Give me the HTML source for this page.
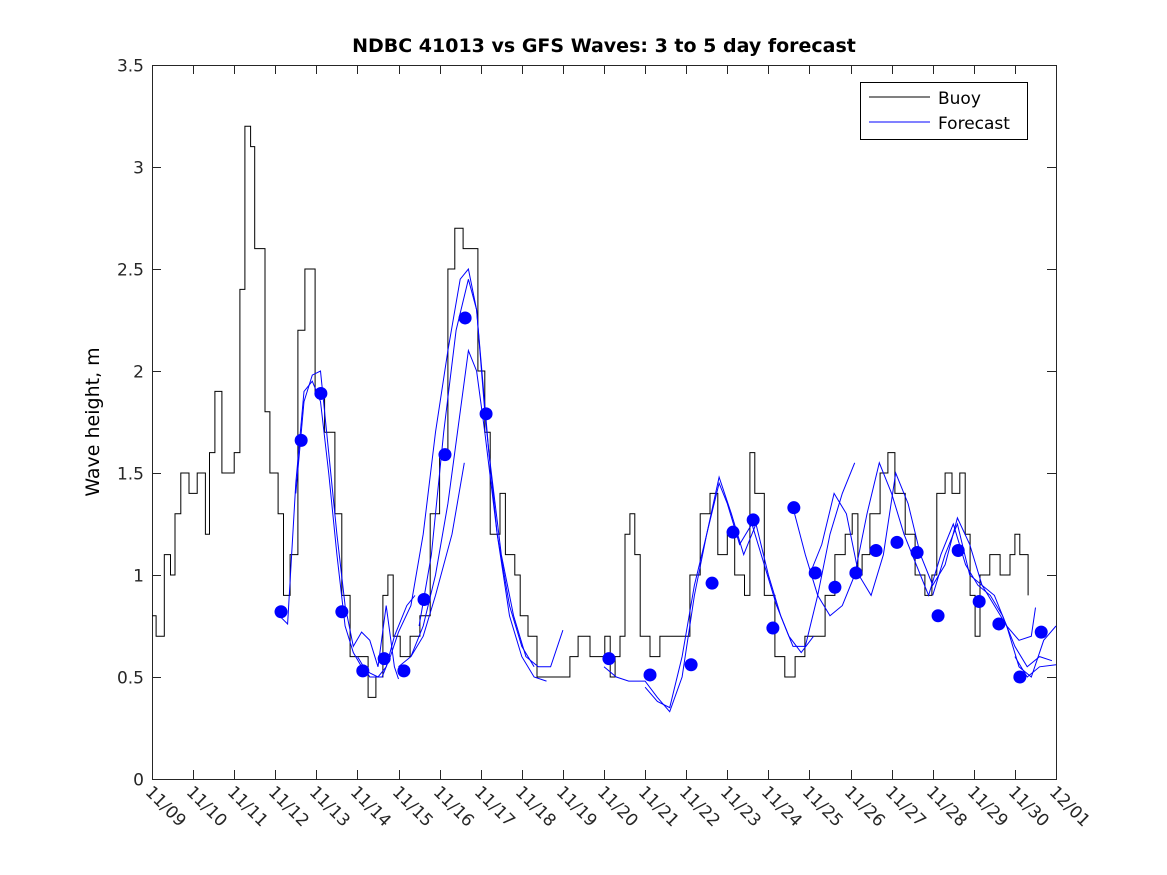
<!DOCTYPE html>
<html><head><meta charset="utf-8"><style>
body{margin:0;background:#fff;}
svg{display:block;font-family:"DejaVu Sans","Liberation Sans",sans-serif;}
</style></head><body>
<svg id="chart" width="1167" height="875" viewBox="0 0 1167 875" xmlns="http://www.w3.org/2000/svg">
<rect width="1167" height="875" fill="#fff"/>
<text x="604" y="52" text-anchor="middle" font-size="19" font-weight="bold">NDBC 41013 vs GFS Waves: 3 to 5 day forecast</text>
<text transform="translate(99,422) rotate(-90)" text-anchor="middle" font-size="19">Wave height, m</text>
<g id="axes"></g>
<g id="marks"></g>
<g id="legend">
<rect x="860.5" y="82.5" width="167" height="57" fill="#fff" stroke="#000"/>
<line x1="869" y1="97" x2="930" y2="97" stroke="#000"/>
<text x="938" y="104" font-size="17">Buoy</text>
<line x1="869" y1="122" x2="930" y2="122" stroke="#00f"/>
<text x="938" y="129" font-size="17">Forecast</text>
</g>
</svg>
<script>
const xTickLabels=["11/09","11/10","11/11","11/12","11/13","11/14","11/15","11/16","11/17","11/18","11/19","11/20","11/21","11/22","11/23","11/24","11/25","11/26","11/27","11/28","11/29","11/30","12/01"];
const yTicks=[0,0.5,1,1.5,2,2.5,3,3.5];
const buoyDays=[0,0.1,0.3,0.45,0.56,0.7,0.9,1.1,1.3,1.4,1.53,1.7,2.0,2.14,2.26,2.4,2.5,2.75,2.87,3.07,3.2,3.36,3.55,3.72,3.97,4.2,4.45,4.62,4.82,5.06,5.26,5.45,5.62,5.74,5.87,6.04,6.28,6.52,6.77,7.0,7.2,7.37,7.57,7.74,7.93,8.1,8.23,8.47,8.6,8.83,8.96,9.15,9.37,10.05,10.17,10.37,10.66,11.02,11.15,11.27,11.39,11.51,11.63,11.75,11.88,12.12,12.36,12.92,13.09,13.34,13.58,13.77,14.0,14.18,14.42,14.55,14.67,14.9,15.16,15.4,15.65,15.89,16.14,16.38,16.62,16.87,17.04,17.18,17.28,17.47,17.72,17.91,18.08,18.33,18.57,18.81,18.98,19.1,19.3,19.47,19.66,19.79,19.91,20.03,20.15,20.39,20.64,20.88,21.0,21.12,21.25,21.32];
const buoyVals=[0.8,0.7,1.1,1.0,1.3,1.5,1.4,1.5,1.2,1.6,1.9,1.5,1.6,2.4,3.2,3.1,2.6,1.8,1.5,1.3,0.9,1.1,2.2,2.5,1.9,1.7,1.3,0.9,0.6,0.6,0.4,0.5,0.9,1.0,0.7,0.6,0.7,0.8,1.3,1.6,2.5,2.7,2.6,2.6,2.0,1.7,1.2,1.4,1.1,1.0,0.8,0.7,0.5,0.5,0.6,0.7,0.6,0.7,0.5,0.6,0.7,1.2,1.3,1.1,0.7,0.6,0.7,0.7,1.0,1.3,1.4,1.1,1.2,1.0,0.9,1.6,1.4,0.9,0.6,0.5,0.6,0.7,0.7,0.9,1.1,1.2,1.3,1.0,1.1,1.3,1.5,1.6,1.4,1.2,1.0,0.9,1.0,1.4,1.5,1.4,1.5,1.2,0.9,0.7,1.0,1.1,1.0,1.1,1.2,1.1,1.1,0.9];
const dotDays=[3.14,3.63,4.11,4.62,5.13,5.65,6.13,6.62,7.13,7.62,8.13,11.12,12.12,13.12,13.63,14.14,14.63,15.11,15.62,16.14,16.62,17.13,17.62,18.13,18.62,19.13,19.62,20.13,20.61,21.12,21.64];
const dotVals=[0.82,1.66,1.89,0.82,0.53,0.59,0.53,0.88,1.59,2.26,1.79,0.59,0.51,0.56,0.96,1.21,1.27,0.74,1.33,1.01,0.94,1.01,1.12,1.16,1.11,0.80,1.12,0.87,0.76,0.50,0.72];
const fDays1=[3.1,3.3,3.5,3.7,3.9,4.1,4.3,4.5,4.7,4.9,5.1,5.3,5.5,5.7,5.9,6.2,6.4];
const fVals1=[0.8,0.76,1.45,1.9,1.95,1.85,1.5,1.1,0.75,0.62,0.55,0.52,0.5,0.55,0.7,0.85,0.9];
const fDays2=[3.5,3.7,3.9,4.1,4.3,4.5,4.7,4.9,5.1,5.3,5.5,5.7,5.9,6.0];
const fVals2=[1.4,1.85,1.98,2.0,1.6,1.2,0.85,0.65,0.72,0.68,0.55,0.85,0.55,0.49];
const fDays3=[5.0,5.3,5.6,5.8,6.0,6.3,6.6,6.9,7.2,7.5,7.7,7.9,8.1,8.4,8.7,9.0,9.3];
const fVals3=[0.6,0.5,0.5,0.6,0.72,0.85,1.2,1.7,2.1,2.45,2.5,2.3,1.8,1.2,0.85,0.65,0.55];
const fDays4=[6.0,6.3,6.6,6.9,7.2,7.5,7.7,7.9,8.1,8.4,8.7,9.0,9.3,9.6];
const fVals4=[0.55,0.6,0.75,1.0,1.35,1.8,2.1,2.0,1.7,1.2,0.8,0.6,0.5,0.48];
const fDays5=[6.3,6.6,6.9,7.3,7.6];
const fVals5=[0.6,0.7,0.9,1.2,1.55];
const fDays6=[6.5,6.8,7.1,7.4,7.7,7.9,8.2,8.5,8.8,9.1,9.4,9.7,10.0];
const fVals6=[0.75,1.1,1.7,2.2,2.45,2.3,1.6,1.1,0.8,0.6,0.55,0.55,0.73];
const fDays7=[11.0,11.3,11.6,12.0,12.3,12.6,12.9,13.2,13.5,13.8,14.0,14.3,14.6,14.9,15.2,15.5,15.8,16.1];
const fVals7=[0.55,0.5,0.48,0.48,0.4,0.33,0.5,0.9,1.2,1.45,1.35,1.15,1.25,1.05,0.85,0.7,0.62,0.7];
const fDays8=[12.0,12.3,12.6,12.9,13.2,13.5,13.8,14.1,14.4,14.7,15.0,15.3,15.6,15.9,16.2,16.5,16.8,17.1];
const fVals8=[0.45,0.38,0.35,0.6,0.95,1.2,1.48,1.3,1.1,1.25,1.0,0.8,0.65,0.65,0.9,1.2,1.4,1.55];
const fDays9=[15.6,15.9,16.2,16.5,16.8,17.1,17.4,17.7,18.0,18.3,18.6,18.9,19.2,19.5,19.8,20.1,20.4,20.7,21.0,21.3,21.6,21.9];
const fVals9=[1.33,1.1,0.9,0.8,0.85,1.0,1.3,1.55,1.4,1.2,1.05,0.9,1.1,1.25,1.05,0.95,0.9,0.8,0.65,0.55,0.6,0.58];
const fDays10=[16.0,16.3,16.6,16.9,17.2,17.5,17.8,18.1,18.4,18.7,19.0,19.3,19.6,19.9,20.2,20.5,20.8,21.1,21.4,21.5];
const fVals10=[1.0,1.15,1.4,1.3,1.0,0.9,1.1,1.5,1.35,1.1,0.95,1.05,1.28,1.15,0.95,0.85,0.75,0.68,0.7,0.84];
const fDays11=[19.0,19.3,19.6,19.9,20.2,20.5,20.8,21.1,21.4,21.7,22.0];
const fVals11=[0.9,1.1,1.25,1.0,0.95,0.9,0.75,0.55,0.5,0.68,0.75];
const fDays12=[21.0,21.3,21.6,22.0];
const fVals12=[0.6,0.5,0.55,0.56];

const X0=152,X1=1056,Y0=779,Y1=65,DMAX=22,VMAX=3.5;
const xs=d=>X0+(X1-X0)*d/DMAX;
const ys=v=>Y0-(Y0-Y1)*v/VMAX;
const NS='http://www.w3.org/2000/svg';
const axes=document.getElementById('axes'),marks=document.getElementById('marks');
function mk(tag,attrs,parent){const e=document.createElementNS(NS,tag);for(const k in attrs)e.setAttribute(k,attrs[k]);parent.appendChild(e);return e;}
const frame=mk('rect',{x:X0+0.5,y:Y1+0.5,width:X1-X0,height:Y0-Y1,fill:'none',stroke:'#262626'},axes);


xTickLabels.forEach((lab,i)=>{
  const x=Math.round(xs(i))+0.5;
  mk('line',{x1:x,y1:Y0,x2:x,y2:Y0-9,stroke:'#262626'},axes);
  mk('line',{x1:x,y1:Y1,x2:x,y2:Y1+9,stroke:'#262626'},axes);
  const t=mk('text',{x:0,y:0,'font-size':17,fill:'#262626',transform:`translate(${x-8},${Y0+14}) rotate(45)`},axes);
  t.textContent=lab;
  
  
});
yTicks.forEach(v=>{
  const y=Math.round(ys(v))+0.5;
  mk('line',{x1:X0,y1:y,x2:X0+9,y2:y,stroke:'#262626'},axes);
  mk('line',{x1:X1,y1:y,x2:X1-9,y2:y,stroke:'#262626'},axes);
  const t=mk('text',{x:X0-8,y:y+6,'font-size':17,'text-anchor':'end',fill:'#262626'},axes);
  t.textContent=String(v);
  
  
});
// buoy stepped line
let d='';
buoyDays.forEach((dd,i)=>{
  const x=xs(dd).toFixed(1),y=ys(buoyVals[i]).toFixed(1);
  if(i===0)d+=`M${x},${y}`;else d+=`H${x}V${y}`;
});
const bp=mk('path',{d:d,fill:'none',stroke:'#000','stroke-width':1},marks);


const fSeries=[[fDays1,fVals1],[fDays2,fVals2],[fDays3,fVals3],[fDays4,fVals4],[fDays5,fVals5],[fDays6,fVals6],[fDays7,fVals7],[fDays8,fVals8],[fDays9,fVals9],[fDays10,fVals10],[fDays11,fVals11],[fDays12,fVals12]];
fSeries.forEach(([ds,vs])=>{
  const pts=ds.map((dd,i)=>xs(dd).toFixed(1)+','+ys(vs[i]).toFixed(1)).join(' ');
  const p=mk('polyline',{points:pts,fill:'none',stroke:'#00f','stroke-width':1},marks);
  
  
});
dotDays.forEach((dd,i)=>{
  const c=mk('circle',{cx:xs(dd),cy:ys(dotVals[i]),r:6.5,fill:'#00f'},marks);
  
  
});
</script>
</body></html>
